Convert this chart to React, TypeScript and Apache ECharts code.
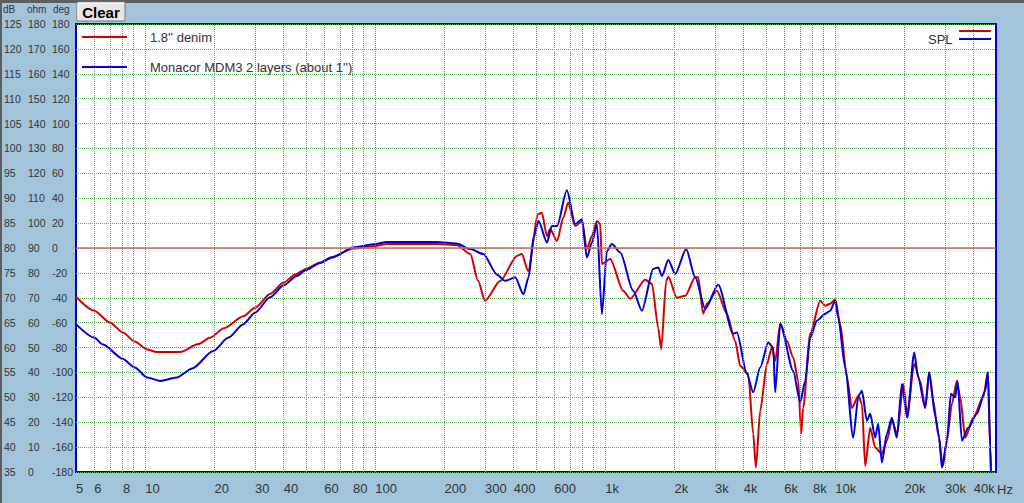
import React, { useEffect, useRef } from "react";
import * as echarts from "echarts";

// ---- data (frequency in Hz, level in dB) ----
const freqRed = [5, 6, 7.04, 8, 9, 10.2, 11.2, 14.2, 17, 19.2, 22, 26.7, 30, 35, 39.8, 45, 50, 57.7, 65, 80.2, 100, 112, 185, 226, 259, 280, 300, 350, 413, 434, 462, 511, 530, 558, 576, 617, 657, 690, 740, 792, 832, 875, 920, 951, 967, 1051, 1197, 1284, 1493, 1596, 1700, 1751, 1841, 1879, 2050, 2227, 2461, 2536, 2667, 2767, 3058, 3381, 3673, 3861, 4184, 4399, 4519, 4718, 5045, 5305, 5483, 5765, 6165, 6566, 6902, 7111, 7255, 7784, 8606, 9047, 9507, 10000, 10510, 11240, 11810, 12620, 13060, 13500, 14190, 14920, 15950, 16770, 17630, 18590, 19750, 20560, 22050, 23410, 24610, 25620, 26670, 28040, 29380, 30590, 32160, 33810, 34940, 36740, 39810, 43990, 46110, 47180, 47510];
const dbRed = [70.2, 67.4, 65.0, 63.0, 61.2, 59.6, 59.1, 59.1, 60.7, 62.0, 63.9, 66.3, 68.0, 70.8, 73.0, 74.7, 75.8, 77.1, 78.2, 79.9, 80.4, 80.8, 80.8, 80.6, 78.8, 73.4, 69.4, 73.4, 78.4, 78.8, 75.4, 86.8, 87.1, 82.4, 83.8, 81.4, 86.1, 89.1, 84.4, 85.4, 79.8, 82.4, 85.4, 84.8, 76.8, 77.8, 71.4, 69.8, 73.6, 72.8, 64.0, 59.7, 73.4, 74.2, 70.0, 70.4, 74.1, 74.1, 66.8, 68.8, 71.4, 66.8, 61.3, 56.3, 54.7, 42.7, 35.9, 47.3, 56.7, 60.0, 57.3, 64.8, 61.3, 58.0, 53.3, 42.7, 47.9, 62.8, 69.4, 68.4, 68.8, 69.7, 64.8, 54.0, 47.9, 50.3, 48.7, 36.2, 43.9, 39.9, 38.7, 41.3, 45.3, 42.7, 52.7, 46.7, 56.7, 53.3, 47.9, 55.0, 49.3, 42.7, 36.2, 41.3, 48.7, 53.3, 50.0, 41.9, 45.9, 50.0, 55.0, 39.9, 35.9];

const freqBlue = [5, 6, 6.56, 8, 9, 10.2, 11.6, 13.7, 16, 19.75, 23, 26.7, 30, 34.9, 40, 45.6, 50, 57.7, 65, 80.2, 100, 112, 185, 226, 259, 295, 338, 367, 406, 441, 464, 488, 513, 558, 586, 617, 681, 740, 792, 832, 875, 920, 967, 1017, 1069, 1162, 1323, 1444, 1617, 1700, 1764, 1879, 2015, 2249, 2461, 2720, 3099, 3600, 3735, 4130, 4399, 4718, 5112, 5376, 5483, 5765, 6566, 7041, 7403, 7784, 8323, 9047, 9507, 10000, 10300, 11050, 11970, 12620, 13060, 13730, 14190, 14920, 15370, 15950, 16770, 17630, 18530, 19490, 20560, 22050, 22940, 24610, 25620, 27200, 28310, 29090, 30590, 31830, 33230, 34000, 35540, 37860, 41300, 44870, 46110, 47180, 47510];
const dbBlue = [64.7, 62.0, 60.6, 57.7, 56.0, 54.0, 53.3, 54.0, 55.8, 59.3, 62.0, 64.7, 67.0, 70.1, 72.5, 74.4, 75.6, 77.0, 78.1, 80.1, 80.8, 81.2, 81.2, 80.9, 79.8, 78.8, 74.7, 73.4, 74.1, 70.7, 74.1, 82.1, 85.4, 81.1, 84.4, 84.4, 91.6, 84.8, 85.8, 78.1, 81.1, 84.8, 66.7, 79.4, 80.8, 79.1, 71.4, 67.4, 75.8, 76.1, 74.4, 77.6, 74.8, 79.8, 74.1, 67.8, 72.6, 62.8, 63.0, 54.7, 51.0, 56.0, 61.0, 60.0, 51.0, 64.8, 55.3, 49.0, 53.3, 62.0, 65.4, 66.8, 67.4, 69.4, 66.0, 56.0, 41.9, 50.3, 51.3, 45.3, 46.7, 41.9, 44.7, 36.9, 42.7, 45.9, 41.9, 52.7, 45.9, 59.0, 54.0, 47.9, 55.0, 46.3, 41.9, 35.9, 41.3, 50.7, 50.0, 53.3, 41.3, 43.9, 46.7, 51.3, 55.0, 39.9, 35.2];

const xLabelFreqs = [5, 6, 8, 10, 20, 30, 40, 60, 80, 100, 200, 300, 400, 600, 1000, 2000, 3000, 4000, 6000, 8000, 10000, 20000, 30000, 40000];
const F_MIN = 5;
const F_MAX = 50000;
const REF_LINE_DB = 80;
const seriesNames = ["1.8'' denim", "Monacor MDM3 2 layers (about 1'')"];

const gridFreqs: number[] = [];
for (const d of [1, 10, 100, 1000, 10000]) {
  for (let m = 1; m <= 9; m++) {
    const f = m * d;
    if (f > F_MIN && f < F_MAX) gridFreqs.push(f);
  }
}

const FONT = "'Liberation Sans', Arial, sans-serif";
const GREEN = "#4fae4f";
const RED = "#d40000";
const BLUE = "#0000d4";
const BG = "#a2c4da";
const TXT = "#333333";

function fmtFreq(v: number): string {
  const f = Math.round(Math.pow(10, v));
  return f >= 1000 ? f / 1000 + "k" : String(f);
}

export default function App() {
  const ref = useRef<HTMLDivElement>(null);
  useEffect(() => {
    document.body.style.margin = "0";
    const chart = echarts.init(ref.current!, undefined, { renderer: "svg" });
    const lab = (margin: number) => ({
      align: "left" as const,
      margin,
      fontSize: 10.5,
      color: TXT,
      fontFamily: FONT,
    });
    chart.setOption({
      animation: false,
      backgroundColor: BG,
      grid: {
        left: 76,
        right: 28,
        top: 24,
        bottom: 31,
        show: true,
        backgroundColor: "#ffffff",
        borderColor: "#0000cc",
        borderWidth: 2,
        containLabel: false,
      },
      xAxis: {
        type: "value",
        min: Math.log10(F_MIN),
        max: Math.log10(F_MAX),
        axisLine: { show: false },
        axisTick: { show: false },
        splitLine: { show: false },
        axisLabel: {
          customValues: xLabelFreqs.map((f) => Math.log10(f)),
          formatter: (v: number) => fmtFreq(v),
          align: "left",
          margin: 10,
          fontSize: 13,
          color: TXT,
          fontFamily: FONT,
        },
      },
      yAxis: [
        {
          type: "value",
          min: 35,
          max: 125,
          interval: 5,
          position: "left",
          axisLine: { show: false },
          axisTick: { show: false },
          axisLabel: lab(72),
          splitLine: { show: true, lineStyle: { color: GREEN, type: "dotted", width: 1 } },
        },
        {
          type: "value",
          min: 0,
          max: 180,
          interval: 10,
          position: "left",
          axisLine: { show: false },
          axisTick: { show: false },
          axisLabel: lab(48),
          splitLine: { show: false },
        },
        {
          type: "value",
          min: -180,
          max: 180,
          interval: 20,
          position: "left",
          axisLine: { show: false },
          axisTick: { show: false },
          axisLabel: lab(24),
          splitLine: { show: false },
        },
      ],
      series: [
        {
          name: "grid",
          type: "line",
          data: [],
          z: 1,
          silent: true,
          markLine: {
            silent: true,
            symbol: ["none", "none"],
            label: { show: false },
            animation: false,
            data: [
              ...gridFreqs.map((f) => ({
                xAxis: Math.log10(f),
                lineStyle: { color: GREEN, type: "dotted", width: 1 },
              })),
              { yAxis: REF_LINE_DB, lineStyle: { color: "#e25f5f", type: "solid", width: 1.5 } },
            ],
          },
        },
        {
          name: seriesNames[0],
          type: "line",
          z: 3,
          data: freqRed.map((f, i) => [Math.log10(f), dbRed[i]]),
          showSymbol: false,
          smooth: 0.25,
          smoothMonotone: "x",
          lineStyle: { color: RED, width: 2 },
        },
        {
          name: seriesNames[1],
          type: "line",
          z: 4,
          data: freqBlue.map((f, i) => [Math.log10(f), dbBlue[i]]),
          showSymbol: false,
          smooth: 0.25,
          smoothMonotone: "x",
          lineStyle: { color: BLUE, width: 2 },
        },
      ],
      graphic: [
        { type: "rect", left: 0, top: 0, shape: { width: 1024, height: 3 }, style: { fill: "#5e5e5e" } },
        { type: "rect", left: 0, top: 0, shape: { width: 2, height: 503 }, style: { fill: "#5e5e5e" } },
        { type: "text", x: 3, y: 9, style: { text: "dB", fontSize: 10, fill: TXT, fontFamily: FONT, verticalAlign: "middle" } },
        { type: "text", x: 27, y: 9, style: { text: "ohm", fontSize: 10, fill: TXT, fontFamily: FONT, verticalAlign: "middle" } },
        { type: "text", x: 53, y: 9, style: { text: "deg", fontSize: 10, fill: TXT, fontFamily: FONT, verticalAlign: "middle" } },
        // Clear button
        { type: "rect", shape: { x: 77, y: 2, width: 48, height: 19 }, style: { fill: "#e6e6e6", stroke: "#7a7a7a", lineWidth: 1 } },
        { type: "line", shape: { x1: 78, y1: 3, x2: 124, y2: 3 }, style: { stroke: "#ffffff", lineWidth: 1 } },
        { type: "line", shape: { x1: 78, y1: 3, x2: 78, y2: 20 }, style: { stroke: "#ffffff", lineWidth: 1 } },
        { type: "text", x: 101, y: 12, style: { text: "Clear", fontSize: 15, fontWeight: "bold", fill: "#000", fontFamily: FONT, align: "center", verticalAlign: "middle" } },
        // legend
        { type: "line", z: 10, shape: { x1: 82, y1: 37, x2: 127, y2: 37 }, style: { stroke: RED, lineWidth: 2 } },
        { type: "text", z: 10, x: 150, y: 37, style: { text: seriesNames[0], fontSize: 13, fill: TXT, fontFamily: FONT, verticalAlign: "middle" } },
        { type: "line", z: 10, shape: { x1: 82, y1: 67, x2: 127, y2: 67 }, style: { stroke: BLUE, lineWidth: 2 } },
        { type: "text", z: 10, x: 150, y: 67, style: { text: seriesNames[1], fontSize: 13, fill: TXT, fontFamily: FONT, verticalAlign: "middle" } },
        { type: "text", z: 10, x: 928, y: 39, style: { text: "SPL", fontSize: 13, fill: TXT, fontFamily: FONT, verticalAlign: "middle" } },
        { type: "line", z: 10, shape: { x1: 959, y1: 31, x2: 991, y2: 31 }, style: { stroke: RED, lineWidth: 2 } },
        { type: "line", z: 10, shape: { x1: 959, y1: 39, x2: 991, y2: 39 }, style: { stroke: BLUE, lineWidth: 2 } },
        { type: "text", x: 997, y: 489, style: { text: "Hz", fontSize: 13, fill: TXT, fontFamily: FONT, verticalAlign: "middle" } },
      ],
    });
    return () => chart.dispose();
  }, []);
  return <div ref={ref} style={{ width: 1024, height: 503 }} />;
}
